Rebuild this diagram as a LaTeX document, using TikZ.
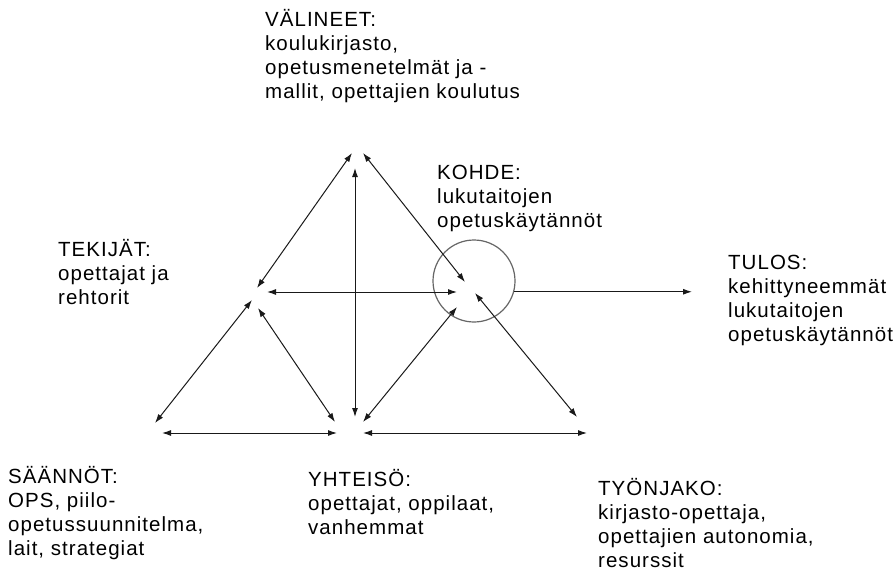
\documentclass[tikz,border=0pt]{standalone}
\usepackage{fontspec}
\setmainfont{Liberation Sans}[LetterSpace=5]
\usetikzlibrary{arrows.meta}

\begin{document}
\begin{tikzpicture}[x=1pt, y=-1pt, >={Latex[length=9pt, width=6pt]},
  link/.style={<->, line width=1pt, draw=black!90},
  txt/.style={anchor=north west, inner sep=0pt, align=left,
    font=\fontsize{20.5}{24}\selectfont, execute at begin node=\strut}]
  \useasboundingbox (0,0) rectangle (895,570);

  % texts of the corners
  \node[txt] (valineet) at (265,9) {VÄLINEET:\\koulukirjasto,\\opetusmenetelmät ja -\\mallit, opettajien koulutus};
  \node[txt] (kohde) at (437,165) {KOHDE:\\lukutaitojen\\opetuskäytännöt};
  \node[txt] (tekijat) at (58,239) {TEKIJÄT:\\opettajat ja\\rehtorit};
  \node[txt] (tulos) at (728,255) {TULOS:\\kehittyneemmät\\lukutaitojen\\opetuskäytännöt};
  \node[txt] (saannot) at (8,466) {SÄÄNNÖT:\\OPS, piilo-\\opetussuunnitelma,\\lait, strategiat};
  \node[txt] (yhteiso) at (308,469) {YHTEISÖ:\\opettajat, oppilaat,\\vanhemmat};
  \node[txt] (tyonjako) at (598,478) {TYÖNJAKO:\\kirjasto-opettaja,\\opettajien autonomia,\\resurssit};

  % ends of the arrows
  \coordinate (vt) at (352,153); \coordinate (vk) at (363,153); \coordinate (vy) at (355,168);
  \coordinate (tv) at (257,288); \coordinate (tk) at (267,292);
  \coordinate (ts) at (252,300); \coordinate (ty) at (258,308);
  \coordinate (kv) at (465,282); \coordinate (kt) at (457,292);
  \coordinate (ky) at (457,307); \coordinate (kj) at (475,293);
  \coordinate (st) at (155,423); \coordinate (sy) at (162,433);
  \coordinate (yv) at (355,417); \coordinate (yt) at (335,422); \coordinate (ys) at (337,433);
  \coordinate (yk) at (363,422); \coordinate (yj) at (363,433);
  \coordinate (jy) at (587,433); \coordinate (jk) at (577,417);
  \coordinate (tu) at (692,292);

  \node[circle, draw=black!60, line width=1.2pt, minimum size=82pt, inner sep=0pt] (ring) at (474,281) {};

  \draw[link] (vt) -- (tv);
  \draw[link] (vk) -- (kv);
  \draw[link] (vy) -- (yv);
  \draw[link] (tk) -- (kt);
  \draw[link] (ts) -- (st);
  \draw[link] (ty) -- (yt);
  \draw[link] (sy) -- (ys);
  \draw[link] (yk) -- (ky);
  \draw[link] (yj) -- (jy);
  \draw[link] (kj) -- (jk);
  \draw[->, line width=1pt, draw=black!90] (ring.-15) -- (ring.-15 -| tu);
\end{tikzpicture}
\end{document}
